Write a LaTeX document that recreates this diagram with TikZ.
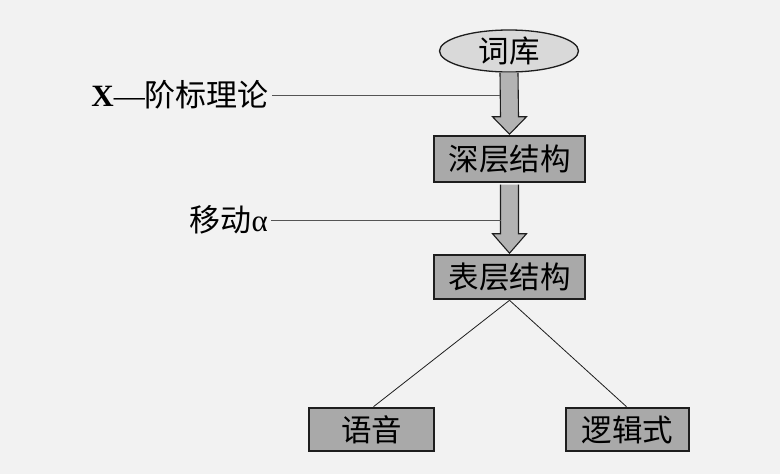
\documentclass[tikz,border=0pt]{standalone}
\usepackage{fontspec}
\setmainfont{Liberation Serif}
\newfontfamily\cjk{Noto Sans CJK SC}
\usetikzlibrary{shapes.geometric,calc}
\definecolor{bgc}{HTML}{F2F2F2}
\definecolor{boxgray}{HTML}{A9A9A9}
\definecolor{arrgray}{HTML}{B3B3B3}
\definecolor{ellgray}{HTML}{D9D9D9}
\definecolor{edge}{HTML}{1E1E1E}
\definecolor{linegray}{HTML}{555555}
\tikzset{
  stagebox/.style={draw=edge, line width=2.6pt, fill=boxgray, inner sep=0pt,
    font=\fontsize{30.5}{32}\selectfont\cjk},
  lexell/.style={ellipse, draw=edge, line width=1.3pt, fill=ellgray, inner sep=0pt,
    minimum width=139pt, minimum height=42pt, font=\fontsize{30.5}{32}\selectfont\cjk},
  sidelabel/.style={anchor=east, inner sep=3pt, font=\fontsize{31}{33}\selectfont},
  guide/.style={draw=linegray, line width=0.9pt},
  arrfill/.style={fill=arrgray},
  arredge/.style={draw=edge, line width=1.1pt, line join=miter},
}
\begin{document}
\begin{tikzpicture}[x=1pt,y=-1pt]
\fill[bgc] (0,0) rectangle (780,474);
\useasboundingbox (0,0) rectangle (780,474);

% nodes
\node[lexell] (lex) at (509,51) {词库};
\node[stagebox, minimum width=151pt, minimum height=46pt] (ds) at (509.5,159) {深层结构};
\node[stagebox, minimum width=151pt, minimum height=44pt] (ss) at (509.5,277) {表层结构};
\node[stagebox, minimum width=125pt, minimum height=43pt] (ph) at (371.5,429.5) {语音};
\node[stagebox, minimum width=123pt, minimum height=43pt] (lf) at (627.5,429.5) {逻辑式};

\node[sidelabel] (xbar) at (272,95) {\textbf{X}—{\cjk 阶标理论}};
\node[sidelabel] (move) at (271,220) {{\cjk 移动}α};

% thick arrows
\coordinate (a1l) at ($(lex.south)+(-9,0)$);
\coordinate (a1r) at ($(lex.south)+(9,0)$);
\fill[arrfill] (a1l) -- ($(ds.north)+(-9,-18)$) -- ($(ds.north)+(-17,-18)$) -- ($(ds.north)+(0,-0.5)$)
  -- ($(ds.north)+(17,-18)$) -- ($(ds.north)+(9,-18)$) -- (a1r) -- cycle;
\draw[arredge] (a1l) -- ($(ds.north)+(-9,-18)$) -- ($(ds.north)+(-17,-18)$) -- ($(ds.north)+(0,-0.5)$)
  -- ($(ds.north)+(17,-18)$) -- ($(ds.north)+(9,-18)$) -- (a1r);

\coordinate (a2l) at ($(ds.south)+(-9,1.3)$);
\coordinate (a2r) at ($(ds.south)+(9,1.3)$);
\fill[arrfill] (a2l) -- ($(ss.north)+(-9,-20)$) -- ($(ss.north)+(-17,-20)$) -- ($(ss.north)+(0,-0.5)$)
  -- ($(ss.north)+(17,-20)$) -- ($(ss.north)+(9,-20)$) -- (a2r) -- cycle;
\draw[arredge] (a2l) -- ($(ss.north)+(-9,-20)$) -- ($(ss.north)+(-17,-20)$) -- ($(ss.north)+(0,-0.5)$)
  -- ($(ss.north)+(17,-20)$) -- ($(ss.north)+(9,-20)$) -- (a2r);

% guide lines
\coordinate (g1) at (a1l |- xbar.east);
\coordinate (g2) at (a2l |- move.east);
\draw[guide] (xbar.east) -- (g1);
\draw[guide] (move.east) -- (g2);

% tree lines
\draw[guide, draw=edge, line width=0.8pt] (ss.south) -- ($(ph.north)+(2,0)$);
\draw[guide, draw=edge, line width=0.8pt] (ss.south) -- ($(lf.north)+(-1,0)$);
\end{tikzpicture}
\end{document}
